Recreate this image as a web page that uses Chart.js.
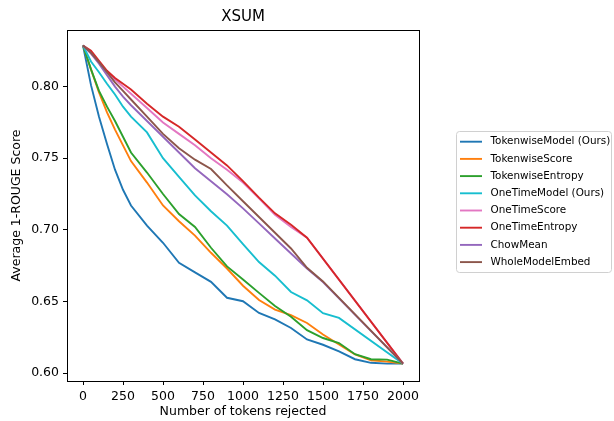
<!DOCTYPE html>
<html>
<head>
<meta charset="utf-8">
<script src="https://cdn.jsdelivr.net/npm/chart.js@4.4.0/dist/chart.umd.min.js"></script>
<style>
  html, body { margin: 0; padding: 0; background: #fff; }
  canvas { display: block; }
</style>
</head>
<body>
<canvas id="myChart" width="614" height="421"></canvas>
<script>
// data
var tokens = [0, 50, 100, 150, 200, 250, 300, 400, 500, 600, 700, 800, 900, 1000, 1100, 1200, 1300, 1400, 1500, 1600, 1700, 1800, 1900, 2000];

var tokenwiseModel  = [0.8287, 0.801, 0.779, 0.760, 0.742, 0.728, 0.717, 0.703, 0.691, 0.677, 0.6703, 0.6637, 0.6526, 0.6502, 0.642, 0.6375, 0.6315, 0.6235, 0.6198, 0.6152, 0.6097, 0.6072, 0.6066, 0.6066];
var tokenwiseScore  = [0.8287, 0.812, 0.796, 0.782, 0.770, 0.759, 0.748, 0.733, 0.717, 0.706, 0.696, 0.684, 0.673, 0.661, 0.651, 0.6443, 0.6405, 0.635, 0.627, 0.620, 0.613, 0.609, 0.608, 0.6066];
var tokenwiseEntropy = [0.8287, 0.812, 0.797, 0.786, 0.776, 0.765, 0.754, 0.740, 0.725, 0.711, 0.702, 0.6875, 0.6745, 0.6653, 0.656, 0.6468, 0.6393, 0.630, 0.6245, 0.621, 0.6132, 0.6097, 0.6094, 0.6066];
var oneTimeModel    = [0.8287, 0.8175, 0.810, 0.802, 0.7945, 0.786, 0.779, 0.768, 0.750, 0.737, 0.724, 0.713, 0.703, 0.690, 0.6775, 0.668, 0.6566, 0.6508, 0.6418, 0.6385, null, null, null, 0.6066];
var oneTimeScore    = [0.8287, 0.824, 0.817, 0.810, 0.805, 0.800, 0.795, 0.785, 0.775, 0.767, 0.759, 0.750, 0.742, 0.733, 0.722, 0.7105, 0.702, 0.6945, null, null, null, null, null, 0.6066];
var oneTimeEntropy  = [0.8287, 0.825, 0.818, 0.811, 0.806, 0.802, 0.798, 0.788, 0.779, 0.772, 0.763, 0.754, 0.745, 0.734, 0.7225, 0.7115, 0.7035, 0.6945, null, null, null, null, null, 0.6066];
var chowMean        = [0.8287, 0.823, 0.816, 0.808, 0.800, 0.793, 0.787, 0.776, 0.765, 0.754, 0.743, 0.734, 0.7248, 0.715, 0.7045, 0.694, 0.6835, 0.673, 0.6635, null, null, null, null, 0.6066];
var wholeModelEmbed = [0.8287, 0.8235, 0.817, 0.810, 0.803, 0.797, 0.791, 0.779, 0.767, 0.757, 0.749, 0.7425, 0.731, 0.720, 0.709, 0.698, 0.687, 0.6735, 0.664, null, null, null, null, 0.6066];

var seriesNames = ["TokenwiseModel (Ours)", "TokenwiseScore", "TokenwiseEntropy", "OneTimeModel (Ours)", "OneTimeScore", "OneTimeEntropy", "ChowMean", "WholeModelEmbed"];
var seriesValues = [tokenwiseModel, tokenwiseScore, tokenwiseEntropy, oneTimeModel, oneTimeScore, oneTimeEntropy, chowMean, wholeModelEmbed];
var lineColors = ["#1f77b4", "#ff7f0e", "#2ca02c", "#17becf", "#e377c2", "#d62728", "#9467bd", "#8c564b"];

var xTicks = [0, 250, 500, 750, 1000, 1250, 1500, 1750, 2000];
var yTicks = [0.60, 0.65, 0.70, 0.75, 0.80];

var FONT = "'DejaVu Sans', sans-serif";

var datasets = seriesNames.map(function (name, i) {
  var pts = [];
  tokens.forEach(function (t, j) {
    if (seriesValues[i][j] !== null) pts.push({ x: t, y: seriesValues[i][j] });
  });
  return {
    label: name,
    data: pts,
    borderColor: lineColors[i],
    backgroundColor: lineColors[i],
    borderWidth: 1.9,
    pointRadius: 0,
    tension: 0,
    order: seriesNames.length - i   // later series on top, like matplotlib
  };
});

// frame, title, axis titles and the legend box
var decorations = {
  id: "decorations",
  afterDraw: function (chart) {
    var ctx = chart.ctx;
    var a = chart.chartArea;
    ctx.save();
    ctx.strokeStyle = "#000";
    ctx.lineWidth = 1;
    ctx.strokeRect(Math.round(a.left) + 0.5, Math.round(a.top) + 0.5, Math.round(a.right - a.left), Math.round(a.bottom - a.top));

    ctx.fillStyle = "#000";
    ctx.textAlign = "center";
    ctx.textBaseline = "middle";
    ctx.font = "15px " + FONT;
    ctx.fillText("XSUM", (a.left + a.right) / 2, 17);

    ctx.font = "12.5px " + FONT;
    ctx.fillText("Number of tokens rejected", (a.left + a.right) / 2, 412);

    ctx.save();
    ctx.translate(17, (a.top + a.bottom) / 2);
    ctx.rotate(-Math.PI / 2);
    ctx.fillText("Average 1-ROUGE Score", 0, 0);
    ctx.restore();

    // legend
    var bx = 456.5, by = 131.5, bw = 155, bh = 141;
    ctx.beginPath();
    if (ctx.roundRect) ctx.roundRect(bx, by, bw, bh, 3); else ctx.rect(bx, by, bw, bh);
    ctx.fillStyle = "rgba(255,255,255,0.8)";
    ctx.fill();
    ctx.strokeStyle = "#d0d0d0";
    ctx.lineWidth = 1;
    ctx.stroke();

    ctx.font = "10.4px " + FONT;
    ctx.textAlign = "left";
    seriesNames.forEach(function (name, i) {
      var y = 141.7 + i * 17.2;
      ctx.strokeStyle = lineColors[i];
      ctx.lineWidth = 1.9;
      ctx.beginPath();
      ctx.moveTo(460, y);
      ctx.lineTo(482, y);
      ctx.stroke();
      ctx.fillStyle = "#000";
      ctx.fillText(name, 490.5, y);
    });
    ctx.restore();
  }
};

new Chart("myChart", {
  type: "line",
  data: { datasets: datasets },
  options: {
    responsive: false,
    animation: false,
    layout: { padding: { top: 30, right: 195, bottom: 0, left: 0 } },
    plugins: {
      legend: { display: false },
      title: { display: false },
      tooltip: { enabled: false }
    },
    scales: {
      x: {
        type: "linear",
        min: -100,
        max: 2100,
        afterFit: function (s) { s.height = 40; },
        afterBuildTicks: function (s) { s.ticks = xTicks.map(function (v) { return { value: v }; }); },
        grid: { display: true, drawOnChartArea: false, drawTicks: true, tickLength: 4, color: "#000" },
        border: { display: true, color: "#000", width: 1 },
        ticks: {
          color: "#000",
          padding: 4,
          maxRotation: 0,
          font: { family: FONT, size: 12.5 },
          callback: function (v) { return String(v); }
        }
      },
      y: {
        type: "linear",
        min: 0.5945,
        max: 0.8395,
        afterFit: function (s) { s.width = 67; },
        afterBuildTicks: function (s) { s.ticks = yTicks.map(function (v) { return { value: v }; }); },
        grid: { display: true, drawOnChartArea: false, drawTicks: true, tickLength: 4, color: "#000" },
        border: { display: true, color: "#000", width: 1 },
        ticks: {
          color: "#000",
          padding: 4,
          font: { family: FONT, size: 12.5 },
          callback: function (v) { return v.toFixed(2); }
        }
      }
    }
  },
  plugins: [decorations]
});
</script>
</body>
</html>
